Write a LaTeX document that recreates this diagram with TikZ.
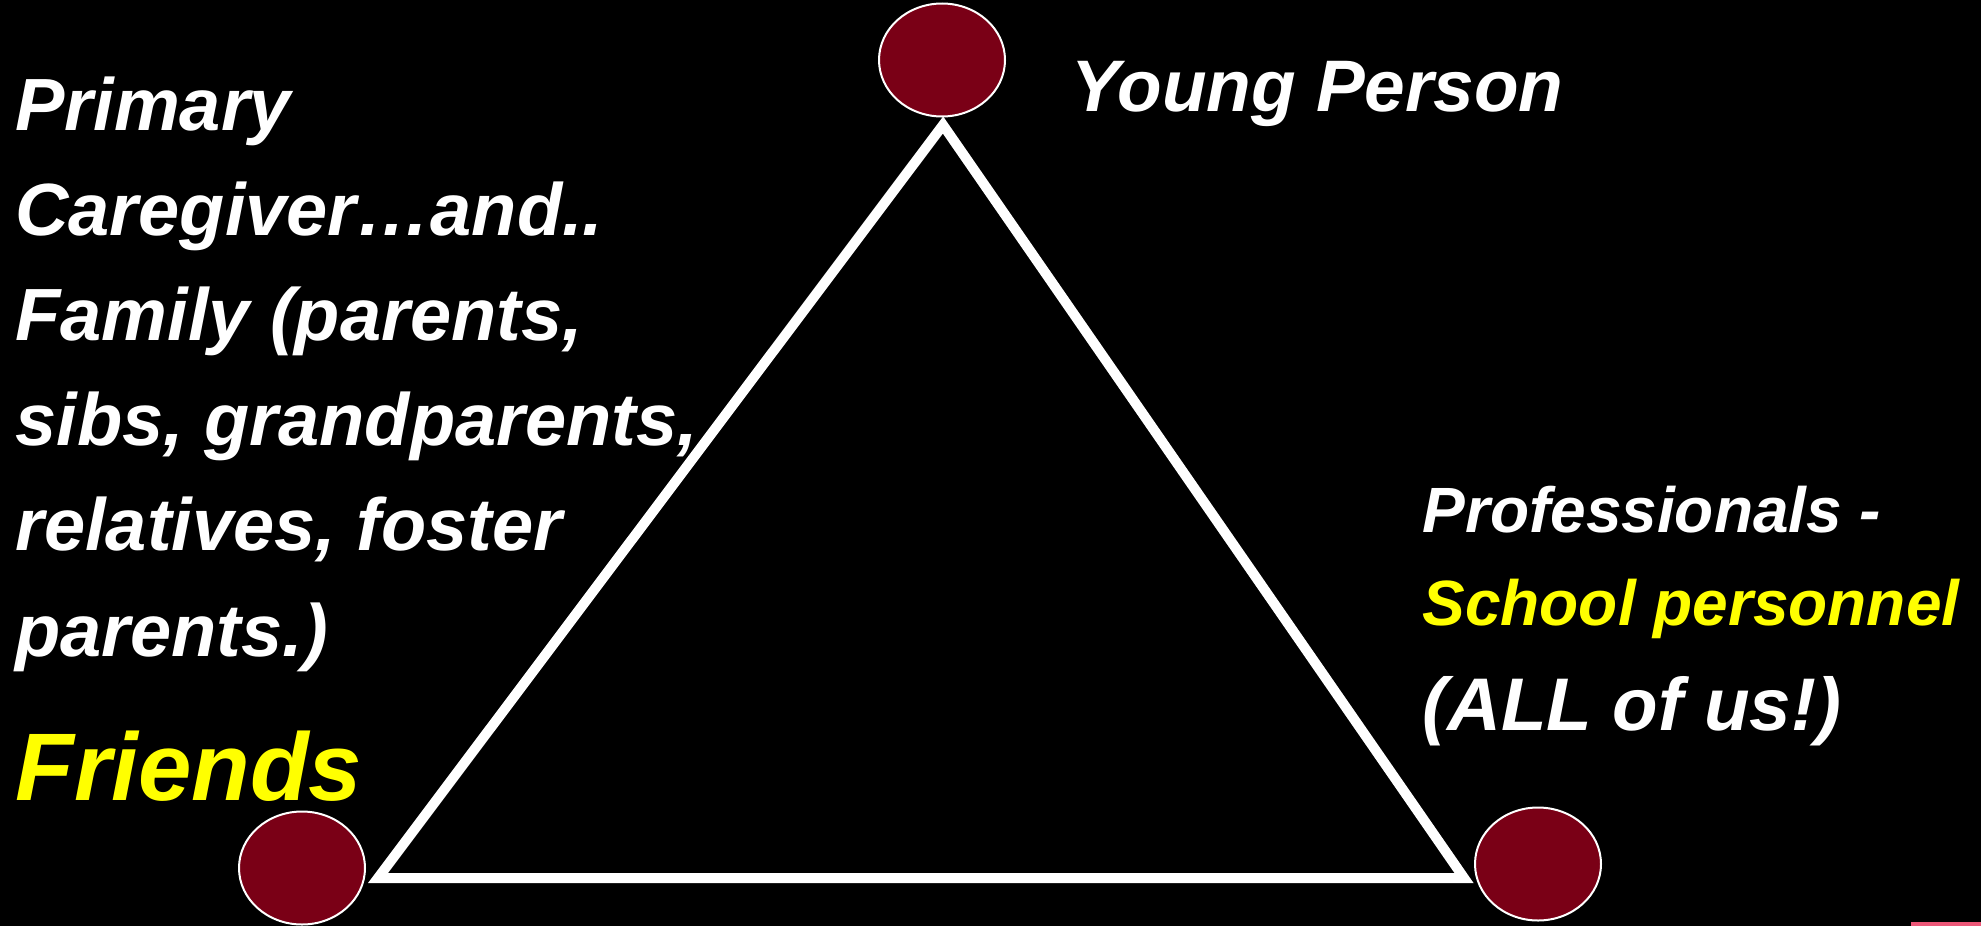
\documentclass[tikz,border=0pt]{standalone}
\usepackage{fontspec}
\setmainfont{Liberation Sans}
\usetikzlibrary{shapes.geometric}
\definecolor{maroon}{RGB}{122,0,22}
\definecolor{hiyellow}{RGB}{255,255,0}
\definecolor{barpink}{RGB}{236,88,120}
\tikzset{
  dot/.style={ellipse, draw=white, line width=1pt, fill=maroon,
    minimum width=63pt, minimum height=56.5pt, inner sep=0pt},
  lbl/.style={text=white, anchor=base west, inner sep=0pt, align=left,
    font=\bfseries\itshape\fontsize{#1}{52.6pt}\selectfont},
  lbl/.default=37pt,
}

\begin{document}
\begin{tikzpicture}[x=0.5pt, y=-0.5pt]
  \fill[black] (0,0) rectangle (1981,926);
  \fill[barpink] (1911,922) rectangle (1981,926);
  % triangle
  \coordinate (ta) at (943,125);
  \coordinate (tl) at (378,878);
  \coordinate (tr) at (1464,878);
  \draw[white, line width=5pt] (ta) -- (tl) -- (tr) -- cycle;
  % the three corners
  \node[dot] (young) at (942,60) {};
  \node[dot] (family) at (302,868) {};
  \node[dot] (school) at (1538,864) {};
  % labels
  \node[lbl=36.5pt] (lyoung) at (1071,111) {Young Person};
  \node[lbl] (lfamily) at (15,656) {Primary\\Caregiver…and..\\Family (parents,\\sibs, grandparents,\\relatives, foster\\parents.)};
  \node[lbl=48pt, text=hiyellow] (lfriends) at (15,800) {Friends};
  \node[lbl=32pt] (lpro) at (1422,532) {Professionals -};
  \node[lbl=32pt, text=hiyellow] (lstaff) at (1422,625) {School personnel};
  \node[lbl=37.3pt] (lall) at (1422,730) {(ALL of us!)};
\end{tikzpicture}
\end{document}
